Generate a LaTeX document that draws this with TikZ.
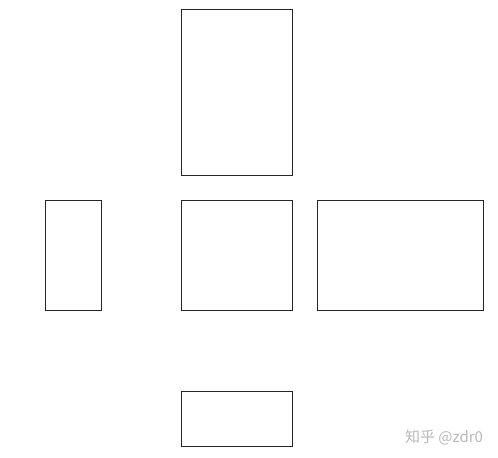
\documentclass[tikz,border=0pt]{standalone}
\usepackage{fontspec}
\newfontfamily\cjkfont{Noto Sans CJK SC}

\tikzset{
    blockbox/.style={draw=black!85, line width=0.5pt, inner sep=0pt},
    markfont/.style={text=black!28, font=\cjkfont\fontsize{7.5}{9}\selectfont}
}

\begin{document}
\begin{tikzpicture}[x=0.5pt, y=-0.5pt]
    % frame
    \useasboundingbox (0,0) rectangle (498,458);
    % boxes
    \node[blockbox, minimum width=55.5pt, minimum height=83pt] (top) at (236.5,93) {};
    \node[blockbox, minimum width=28pt, minimum height=55pt] (left) at (73,256) {};
    \node[blockbox, minimum width=55.5pt, minimum height=55pt] (middle) at (236.5,256) {};
    \node[blockbox, minimum width=83pt, minimum height=55pt] (right) at (400,256) {};
    \node[blockbox, minimum width=55.5pt, minimum height=27.5pt] (bottom) at (236.5,419.5) {};
    % watermark
    \node[markfont] (mark) at (444,437) {知乎 @zdr0};
\end{tikzpicture}
\end{document}
